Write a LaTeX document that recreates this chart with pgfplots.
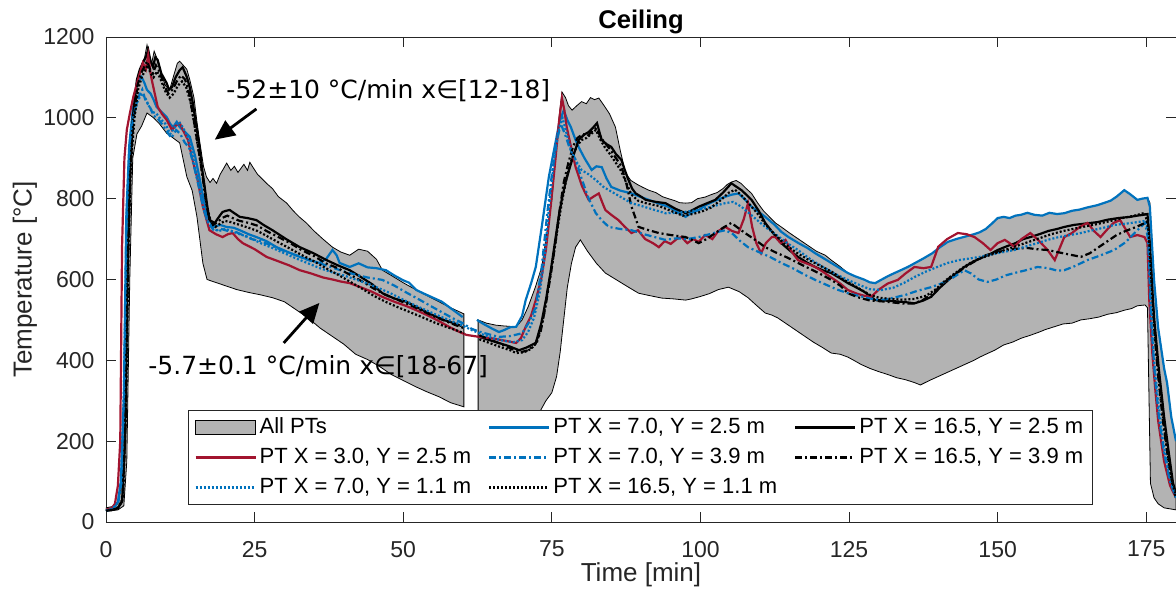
\documentclass[border=0pt]{standalone}
\usepackage{pgfplots}
\pgfplotsset{compat=1.18}
\usepackage{fontspec}
\setmainfont{Liberation Sans}
\newfontfamily\annfont{DejaVu Sans}
\usetikzlibrary{arrows.meta,calc}
\definecolor{mred}{RGB}{162,20,47}
\definecolor{mblue}{RGB}{0,114,189}
\definecolor{envgray}{RGB}{179,179,179}
\definecolor{axgray}{RGB}{38,38,38}
\pgfplotsset{
  linelegend/.style={legend image code/.code={\draw[##1] (0pt,0pt) -- (30pt,0pt);}},
  envlegend/.style={legend image code/.code={\draw[##1] (0pt,-3.5pt) rectangle (30pt,3.5pt);}},
}
\begin{document}
\begin{tikzpicture}
\begin{axis}[
  name=ax,
  width=535pt, height=242.5pt, scale only axis,
  xmin=0, xmax=180, ymin=0, ymax=1200,
  xtick={0,25,...,175}, ytick={0,200,...,1200},
  tick align=inside, tick pos=both, major tick length=5pt,
  axis line style={axgray}, tick style={axgray, line width=0.4pt},
  /pgf/number format/assume math mode=true,
  /pgf/number format/1000 sep={},
  tick label style={font=\fontsize{11.5}{13}\selectfont, text=axgray},
  xticklabel style={yshift=-6pt},
  yticklabel style={xshift=-2.2pt},
  title={\bfseries Ceiling},
  every axis title shift=0pt,
  title style={font=\fontsize{12.8}{14}\selectfont, at={(axis description cs:0.5,1)}, anchor=base, yshift=4pt, inner sep=0pt},
  xlabel={Time [min]},
  ylabel={Temperature [°C]},
  every axis x label/.style={at={(axis description cs:0.5,-0.109)}, anchor=center, font=\fontsize{13}{15}\selectfont, text=axgray},
  every axis y label/.style={at={(axis description cs:-0.0757,0.5)}, anchor=center, rotate=90, font=\fontsize{13}{15}\selectfont, text=axgray},
  unbounded coords=jump,
  legend columns=3,
  legend cell align=left,
  linelegend,
  legend style={at={(axis description cs:0.0766,0.035)}, anchor=south west,
    draw=axgray, line width=0.5pt, inner xsep=3pt, inner ysep=1pt,
    font=\fontsize{11}{13}\selectfont,
    nodes={inner xsep=1.5pt, inner ysep=2pt, text height=8.5pt, text depth=2.5pt},
    /tikz/every even column/.append style={column sep=7pt}},
]
% ---- envelope of all PTs ----
\addplot[fill=envgray, draw=black, line width=0.4pt, envlegend]
coordinates {
(0,35) (1,38) (2,45) (2.5,80) (3,350) (3.5,750) (4,950) (4.5,1000) (5,1060) (5.5,1100) (6,1130) (6.5,1150) (6.9,1180) (7.3,1150) (7.7,1136) (8.1,1165) (8.5,1150) (9,1120) (9.5,1100) (10,1080) (10.7,1069) (11.3,1100) (12,1135) (12.4,1140) (13,1130) (13.6,1120) (14.1,1094) (14.8,1050) (15.3,990) (15.8,938) (16.4,880) (16.9,854) (17.5,840) (18,850) (18.6,838) (19.2,860) (19.8,875) (20.3,888) (21,870) (21.6,880) (22.2,865) (22.5,871) (23.2,885) (23.8,870) (24.2,890) (24.7,878) (25.5,860) (26.2,850) (27,838) (28,825) (29,805) (30.4,789) (31.5,770) (32.5,755) (33.7,740) (35,720) (36.5,700) (38.1,680) (39.5,668) (41,660) (42.5,675) (44,670) (45.5,650) (46.5,623) (48,610) (50,592) (52.2,574) (54,560) (56,545) (58,530) (60.2,515)
(60.2,285) (58,295) (56,310) (54,322) (52.2,334) (50,350) (48,365) (46,385) (44,402) (42,415) (40,440) (38,460) (36,480) (34,505) (32,525) (30,545) (28,555) (26,562) (24,568) (22,575) (20,585) (18,595) (17,600) (16.3,640) (15.3,755) (14.5,820) (13.6,854) (12.4,938) (11.3,950) (10.2,962) (9,985) (8,1000) (6.9,1012) (6,980) (5.2,960) (4.5,900) (4,600) (3.5,150) (3,40) (2,30) (1,28) (0,28)
} -- cycle;
\addlegendentry{All PTs}
\addplot[fill=envgray, draw=black, line width=0.4pt, forget plot]
coordinates {
(62.6,500) (64,492) (65.6,487) (67,485) (69,483) (70,500) (71,532) (72.2,580) (73.3,631) (74.2,720) (75,797) (75.6,900) (76.2,1000) (76.7,1064) (77.3,1050) (77.8,1030) (78.4,1019) (79.2,1030) (80,1040) (80.8,1035) (81.5,1050) (82.2,1045) (82.9,1049) (83.8,1030) (84.7,1010) (85.7,977) (86.5,920) (87.4,863) (88.3,845) (89.4,835) (90.3,828) (91.3,821) (92.5,815) (93.6,805) (94.6,800) (95.7,795) (96.5,790) (97.5,789) (98.5,790) (99.5,800) (100.8,804) (101.8,810) (102.8,815) (103.8,825) (104.5,835) (105.2,841) (106,845) (106.8,838) (107.7,825) (108.6,813) (109.6,790) (110.6,770) (111.6,755) (112.6,740) (113.6,730) (115,715) (116.5,700) (118,685) (119.5,670) (121,660) (122,648) (123.5,632) (124.8,616) (126,608) (127.5,600) (128.5,593) (129.4,591) (130.5,600) (131.5,608) (132.5,615) (134,625) (135,632) (136,640) (137.5,652) (139,665) (140.3,680) (141.6,693) (143,700) (144.5,706) (146,712) (147,717) (148,725) (149,738) (150,752) (151,755) (152,752) (153,758) (153.9,760) (155,765) (156.2,760) (157.5,758) (158.7,765) (160,762) (161.2,764) (162.5,770) (163.8,773) (165,778) (166.8,784) (168,790) (169,795) (170,805) (171.3,821) (172.2,812) (173.5,797) (174.3,800) (175.2,802) (175.6,790) (176.3,600) (177,480) (178,380) (178.5,344) (179.2,260) (180,200)
(180,30) (178,35) (177,45) (176.3,60) (175.7,96) (175.2,530) (174.8,537) (173.5,535) (172.5,528) (171.3,524) (170,518) (168.5,514) (167,507) (165.5,503) (164,500) (162.5,492) (161,490) (159.5,483) (158,476) (157,470) (155.5,462) (154,455) (152.5,445) (151,438) (149.5,425) (148,415) (147,408) (146,400) (144.5,390) (143,380) (141.5,370) (140,360) (138.5,350) (137,339) (136,345) (134.5,352) (133,357) (131.5,365) (130,372) (128.5,380) (127,390) (125.8,400) (124.8,408) (123.5,415) (122,418) (120.5,432) (119,445) (117.5,460) (116,475) (114.5,490) (113,505) (112,512) (110.9,517) (109.5,535) (108,555) (106.5,570) (104.7,581) (103,575) (101.5,565) (100,558) (98.5,552) (97.5,549) (95.5,552) (93.5,554) (91.5,560) (89.6,566) (88,580) (86,598) (84,616) (82.5,640) (81,670) (79.8,698) (79,680) (78.3,640) (77.6,580) (77,500) (76.4,420) (75.8,360) (75,320) (74,300) (72.5,260) (71,255) (69,255) (67,255) (65,258) (63.5,260) (62.6,260)
} -- cycle;
% ---- PT X = 7.0, Y = 2.5 m ----
\addplot[mblue, line width=1.1pt] coordinates {
(0,28) (1,32) (2,50) (2.5,100) (3,300) (3.4,750) (3.9,930) (4.5,1020) (5.2,1086) (6,1101) (6.5,1085) (6.9,1069) (7.5,1060) (8,1045) (8.5,1027) (9.3,1015) (10.2,1002) (10.8,985) (11.3,977) (11.9,990) (12.4,977) (13.3,965) (14.1,953) (15,905) (15.8,846) (16.4,800) (16.9,764) (18,730) (19.2,735) (20.3,730) (21.5,728) (22.5,722) (24,712) (25.3,705) (27,695) (28.7,680) (30.6,668) (32.6,656) (34.3,648) (35.9,641) (37,650) (38.1,673) (38.8,660) (39.3,641) (41,631) (42.5,640) (44,630) (45.5,628) (47.1,623) (48.5,610) (50,598) (51,592) (52.2,574) (53.5,565) (55,555) (56.5,545) (57.7,532) (59,518) (60,507) (60.3,nan) (62.4,500) (63.5,490) (65,478) (66.1,470) (67,475) (68,482) (69,483) (70,510) (70.6,549) (71.5,590) (72.3,631) (73.3,730) (74.5,854) (75.6,938) (76.3,990) (77,1019) (77.6,995) (78.2,977) (79,945) (79.5,928) (80.5,900) (81.7,871) (82.5,880) (83.4,878) (84.2,850) (85,829) (86.5,820) (88.4,813) (89.8,805) (91.3,797) (93,788) (94.6,780) (96,768) (97.5,755) (98.5,765) (99.7,772) (101,785) (102.5,795) (104.2,805) (105.3,810) (106.4,813) (107.5,798) (108.6,780) (109.7,768) (110.9,755) (112.5,735) (113.6,718) (114.8,705) (116.5,690) (118,678) (119.3,665) (121,650) (123,632) (124.8,616) (126,608) (127.5,600) (128.5,593) (129.4,591) (130.5,600) (131.5,608) (132.5,615) (134,625) (135,632) (136,640) (137.5,652) (139,665) (140.3,680) (141.6,693) (143,700) (144.5,706) (146,712) (147,717) (148,725) (149,738) (150,752) (151,755) (152,752) (153,758) (153.9,760) (155,765) (156.2,760) (157.5,758) (158.7,765) (160,762) (161.2,764) (162.5,770) (163.8,773) (165,778) (166.8,784) (168,790) (169,795) (170,805) (171.3,821) (172.2,812) (173.5,797) (174.3,800) (175.2,802) (175.6,780) (176.3,600) (177,480) (178,380) (178.5,344) (179.2,260) (180,200)
};
\addlegendentry{PT X = 7.0, Y = 2.5 m}
% ---- PT X = 16.5, Y = 2.5 m ----
\addplot[black, line width=1.1pt] coordinates {
(0,28) (1,30) (2,35) (2.7,50) (3.2,200) (3.6,600) (4,850) (4.5,1000) (5.2,1094) (5.7,1120) (6.2,1136) (6.7,1150) (7.1,1168) (7.5,1140) (7.9,1126) (8.3,1150) (8.7,1143) (9.3,1110) (10.2,1086) (10.6,1070) (11.1,1076) (11.7,1100) (12.4,1118) (12.9,1125) (13.6,1101) (14.1,1075) (14.6,1037) (15.2,980) (15.8,920) (16.2,870) (16.6,829) (17,785) (17.4,747) (18.3,740) (19,755) (19.6,767) (20.2,770) (20.8,772) (21.5,765) (22.5,755) (23.8,752) (25.3,747) (26.5,735) (28,722) (30.3,700) (32.6,680) (34.9,665) (37.1,648) (39,635) (41,623) (43,605) (44.8,588) (46.5,566) (48.5,553) (50.5,545) (52.2,532) (54.5,515) (56.8,500) (58.5,492) (59.8,485) (60.3,nan) (62.8,458) (64.5,450) (66.1,443) (67.8,435) (69.5,425) (70.8,432) (72.3,443) (73.2,490) (74,549) (74.8,620) (75.6,700) (76.2,760) (76.7,800) (77.3,840) (77.9,871) (78.7,910) (79.5,945) (80.4,958) (81.2,965) (81.9,975) (82.6,987) (83,965) (83.4,945) (84.2,935) (85,928) (85.8,910) (86.7,896) (87.3,870) (87.9,846) (88.5,825) (89.1,813) (90,805) (90.8,797) (92.5,792) (94.1,789) (95.8,775) (97.5,764) (98.7,772) (99.7,780) (101,788) (102.5,797) (103.8,815) (105.2,838) (106,830) (106.9,821) (107.7,810) (108.6,797) (109.8,770) (110.9,740) (112.2,715) (113.6,690) (115,672) (116.4,656) (117.8,643) (119.3,631) (120.7,622) (122,616) (123.5,603) (124.8,591) (126,582) (127.5,570) (129.4,549) (131,548) (132.8,546) (134.5,544) (136,541) (137.5,548) (138.8,557) (140.3,580) (141.8,600) (143,615) (144.4,631) (146,645) (147.5,655) (149,665) (150,673) (151.5,682) (153,690) (154.3,700) (155.5,705) (157,712) (158.5,720) (160,725) (161.2,730) (162.8,735) (164.5,738) (166.8,742) (168.5,748) (170.3,752) (172.3,755) (173.5,758) (174.5,760) (175.2,762) (175.5,700) (176.3,507) (177.1,380) (178,260) (178.8,170) (179.5,96) (180,70)
};
\addlegendentry{PT X = 16.5, Y = 2.5 m}
% ---- PT X = 3.0, Y = 2.5 m ----
\addplot[mred, line width=1.1pt] coordinates {
(0,30) (1,35) (1.5,45) (2,90) (2.4,200) (2.7,680) (3.1,900) (3.5,970) (4,1010) (4.6,1052) (5.3,1090) (6.2,1136) (6.7,1120) (7.1,1155) (7.5,1110) (7.7,1094) (8.2,1060) (8.7,1027) (9.4,1010) (10.2,995) (11.1,970) (11.7,980) (12.4,987) (13.1,965) (13.8,945) (14.5,900) (15.3,854) (16.3,780) (17.4,722) (18.5,712) (19.6,705) (20.5,712) (21.3,715) (22.2,700) (23,690) (25,675) (27,656) (29,645) (30.8,635) (32.6,623) (34.5,615) (36.5,605) (38.1,600) (39.5,595) (41,591) (43,580) (44.7,570) (46.5,557) (48.5,545) (50.4,535) (52.2,524) (54,512) (55.9,498) (57.7,483) (59.2,472) (60.6,463) (62.8,458) (64.7,455) (66.6,450) (68,446) (69,443) (69.8,455) (70.6,483) (71.5,510) (72.3,549) (73.2,600) (74,673) (74.8,780) (75.6,896) (76.2,990) (76.7,1049) (77.1,1020) (77.5,977) (78.2,930) (79,878) (80.1,830) (81.2,797) (82,805) (82.9,813) (83.5,790) (84,772) (85,760) (86.2,747) (87.3,730) (88.4,715) (89.5,722) (90.7,700) (92,690) (93,680) (94,695) (95,688) (96,700) (96.8,705) (97.8,690) (98.8,700) (99.7,693) (100.8,710) (102,700) (103,720) (104.2,730) (105.3,720) (106.4,715) (107.3,750) (108,789) (108.7,730) (109.4,690) (110.2,665) (111,690) (112,705) (112.6,705) (113.5,690) (114.3,698) (115.3,670) (116.4,648) (117.8,640) (119.3,631) (120.5,620) (122,605) (123.5,590) (124.8,574) (126.3,565) (127.5,560) (128.7,557) (130,575) (131.5,590) (133.2,599) (134.5,615) (136,631) (137.5,628) (138.8,631) (139.5,660) (140,681) (141.5,700) (143.3,715) (144.8,712) (146.1,705) (147.5,690) (148.8,673) (150,690) (151.2,698) (152,690) (152.8,681) (154,700) (155.5,715) (157,695) (158.4,673) (159.6,648) (160.5,680) (161.2,705) (162.5,715) (163.8,730) (165.1,740) (166.2,720) (167.3,705) (168.5,725) (169.5,740) (170.6,747) (171.5,725) (172.3,705) (173.5,710) (174.7,705) (175.2,690) (175.5,549) (176,420) (176.5,330) (177,250) (178,150) (179,90) (180,60)
};
\addlegendentry{PT X = 3.0, Y = 2.5 m}
% ---- PT X = 7.0, Y = 3.9 m ----
\addplot[mblue, line width=1.1pt, dash pattern=on 3.5pt off 1.5pt on 1pt off 1.5pt] coordinates {
(0,28) (1,32) (2,45) (2.6,90) (3.1,300) (3.6,800) (4.1,950) (4.7,1010) (5.4,1050) (6.1,1070) (6.7,1040) (7.3,1030) (8,1005) (8.6,1000) (9.4,985) (10.3,965) (11,950) (11.8,970) (12.5,960) (13.2,940) (14,925) (14.8,880) (15.6,830) (16.4,775) (17.2,740) (18.2,720) (19.4,725) (20.5,720) (21.8,718) (23,710) (24.5,700) (26,695) (28,683) (30,670) (32,660) (34,648) (36,640) (38,630) (40,620) (42,612) (44,605) (46.5,599) (48.5,585) (50.5,568) (52.5,552) (54.9,532) (57,515) (58.5,503) (60,492) (61.5,478) (63,470) (64.5,464) (66.1,458) (68,460) (70,467) (71.2,495) (72.3,532) (73.3,631) (74.2,760) (75,860) (75.8,940) (76.5,985) (77.2,960) (78,925) (79,896) (80,850) (81.2,800) (82.4,764) (83.5,745) (84.6,730) (86.5,725) (88.4,722) (90.5,712) (92.3,705) (94.1,698) (96,702) (97.8,700) (99.7,705) (101.5,712) (103,718) (104.2,722) (105.5,712) (106.7,695) (108,680) (109.8,668) (111.8,655) (113.6,641) (115.5,628) (117.5,612) (119.3,599) (121,588) (123,575) (124.8,566) (126.5,560) (128.5,553) (130.4,549) (132.5,555) (134.5,562) (136.5,572) (138.8,581) (140.5,590) (142.5,605) (144.4,623) (145.5,615) (146.8,600) (148.3,594) (149.8,600) (151.3,610) (152.8,616) (154.5,622) (156.7,631) (158.5,628) (160,622) (161.2,623) (162.8,632) (165.1,648) (167,658) (169.6,673) (171.5,692) (173.5,722) (174.8,740) (175.3,700) (175.8,500) (176.5,350) (177.2,250) (178,170) (179,100) (180,60)
};
\addlegendentry{PT X = 7.0, Y = 3.9 m}
% ---- PT X = 16.5, Y = 3.9 m ----
\addplot[black, line width=1.1pt, dash pattern=on 3.5pt off 1.5pt on 1pt off 1.5pt] coordinates {
(0,28) (1,30) (2,34) (2.8,55) (3.3,250) (3.7,650) (4.1,870) (4.6,990) (5.3,1080) (5.9,1110) (6.4,1125) (6.9,1140) (7.4,1120) (7.9,1110) (8.4,1130) (9,1115) (9.8,1080) (10.5,1060) (11.2,1070) (11.9,1090) (12.6,1105) (13.3,1095) (14,1060) (14.6,1010) (15.2,955) (15.8,900) (16.3,850) (16.8,795) (17.3,755) (18,735) (18.8,742) (19.5,752) (20.4,758) (21.3,752) (22.5,745) (24,740) (25.5,733) (27,720) (29,705) (31,690) (33,672) (35,658) (37,640) (39,628) (41,612) (43,596) (45,578) (47,562) (49,550) (51,538) (53,524) (55,510) (57,498) (59,486) (60.2,480) (60.3,nan) (62.8,462) (64.5,452) (66.5,440) (68.3,428) (69.8,420) (71,425) (72.2,440) (73.1,470) (73.9,530) (74.8,610) (75.6,690) (76.3,770) (77,840) (77.8,890) (78.6,930) (79.3,950) (80.2,960) (81,955) (81.8,968) (82.5,975) (83.3,950) (84.1,935) (84.9,920) (85.8,900) (86.7,880) (87.5,840) (88.4,780) (89.6,730) (91.3,722) (93,715) (95,710) (97.5,705) (98.6,698) (99.7,690) (101,700) (102.5,715) (103.8,728) (105.2,740) (106.3,728) (107.5,715) (109.2,698) (110.9,680) (112.5,668) (114.5,655) (116.4,641) (118.2,628) (120,615) (122,599) (123.5,585) (124.8,566) (126.5,556) (128.5,548) (130.5,546) (132.5,543) (134.5,540) (136,541) (137.5,550) (139,565) (140.5,585) (142,605) (143.5,620) (145,635) (146.5,648) (148,660) (150,668) (151.5,672) (153,676) (155,678) (156.5,675) (158.4,673) (160,668) (162,662) (164,656) (165.5,665) (167,680) (168.5,695) (170,710) (171.5,720) (173.3,730) (174.5,738) (175.3,745) (175.6,680) (176.3,480) (177,360) (177.8,250) (178.6,160) (179.4,90) (180,60)
};
\addlegendentry{PT X = 16.5, Y = 3.9 m}
% ---- PT X = 7.0, Y = 1.1 m ----
\addplot[mblue, line width=1.1pt, dash pattern=on 1pt off 1pt] coordinates {
(0,28) (1,32) (2,48) (2.5,100) (3,320) (3.5,780) (4,940) (4.6,1000) (5.3,1040) (6,1060) (6.6,1050) (7.2,1030) (7.8,1015) (8.5,1010) (9.3,995) (10,985) (10.8,960) (11.5,975) (12.3,990) (13,975) (13.8,950) (14.6,905) (15.4,850) (16.2,790) (17,745) (18,725) (19,720) (20,725) (21.2,720) (22.5,712) (24,705) (26,690) (28,678) (30,665) (32,652) (34,640) (36,628) (38,618) (40,610) (42,600) (44,590) (46,578) (48,565) (50,550) (52,536) (54,523) (56,510) (58,498) (60,486) (61.5,475) (63,466) (65,455) (67,448) (68.5,445) (70,450) (71,470) (72,505) (73,570) (73.8,660) (74.6,790) (75.4,900) (76.2,975) (76.8,1000) (77.5,960) (78.3,915) (79.2,890) (80,871) (81.2,860) (82.5,845) (83.6,830) (84.6,821) (86.5,805) (88.4,789) (90.5,780) (92.3,772) (94.1,764) (96,765) (97.8,768) (99.7,772) (101.8,780) (104.2,789) (105.5,792) (106.9,780) (108.5,760) (110.9,730) (112.8,710) (114.6,690) (116.4,673) (118.5,650) (120.5,632) (122.5,615) (124.8,599) (126.5,588) (128.5,576) (130.5,574) (132.5,580) (134.3,592) (136,606) (138,620) (140,632) (141.6,641) (143.5,648) (145.3,652) (147,656) (149,662) (151,668) (152.8,673) (154.8,682) (156.7,690) (158.4,698) (160.3,705) (162.2,710) (164,715) (166,722) (167.8,728) (169.6,735) (171.5,738) (173.5,742) (174.8,745) (175.3,720) (175.8,540) (176.3,400) (177,300) (177.8,200) (178.8,120) (180,60)
};
\addlegendentry{PT X = 7.0, Y = 1.1 m}
% ---- PT X = 16.5, Y = 1.1 m ----
\addplot[black, line width=1.1pt, dash pattern=on 1pt off 1pt] coordinates {
(0,28) (1,30) (2,34) (2.9,60) (3.4,300) (3.8,700) (4.2,890) (4.8,1000) (5.4,1070) (6,1100) (6.5,1115) (7,1130) (7.5,1110) (8,1100) (8.6,1115) (9.2,1095) (10,1065) (10.7,1050) (11.4,1060) (12.1,1080) (12.8,1090) (13.5,1075) (14.2,1040) (14.8,990) (15.4,935) (16,880) (16.5,830) (17,780) (17.6,745) (18.4,730) (19.2,738) (20,745) (21,742) (22.5,735) (24,728) (25.5,720) (27,708) (29,692) (31,676) (33,660) (35,645) (37,628) (39,612) (41,595) (43,578) (45,560) (47,545) (49,532) (51,520) (53,508) (55,495) (57,484) (59,474) (60.2,467) (60.3,nan) (62.8,452) (64.5,443) (66.5,432) (68,425) (69,418) (70.3,420) (71.5,428) (72.5,445) (73.5,500) (74.4,580) (75.3,660) (76,730) (76.8,800) (77.6,860) (78.4,900) (79.2,930) (80,945) (80.8,950) (81.6,960) (82.4,970) (83.2,945) (84,925) (84.8,910) (85.7,890) (86.6,870) (87.5,840) (88.4,810) (89.5,795) (91,788) (93,782) (95,770) (97,758) (98.7,762) (100.2,768) (101.8,778) (103.3,795) (104.8,815) (105.8,822) (106.8,810) (108,790) (109.5,765) (111,735) (112.5,712) (114,690) (116,668) (118,650) (120,635) (122,620) (124,600) (125.5,588) (127,575) (128.5,562) (130,555) (132,552) (134,550) (136,552) (138,560) (139.5,575) (141,595) (142.5,612) (144,628) (145.5,642) (147,652) (149,662) (151,672) (153,682) (155,692) (157,702) (159,712) (161,720) (163,726) (165,732) (167,738) (169,745) (171,752) (173,758) (174.8,765) (175.4,720) (176,560) (176.7,420) (177.5,300) (178.3,200) (179.2,110) (180,65)
};
\addlegendentry{PT X = 16.5, Y = 1.1 m}
% ---- annotations ----
\draw[black, line width=1.4pt, -{Triangle[length=10pt,width=9pt]}] (axis cs:25.3,1022) -- (axis cs:18.3,946);
\draw[black, line width=1.4pt, -{Triangle[length=10pt,width=9pt]}] (axis cs:29.9,443) -- (axis cs:35.9,542);
\node[anchor=base, inner sep=0pt, font=\annfont\fontsize{12.5}{14}\selectfont] at (axis cs:47.5,1049) {-52±10 °C/min x∈[12-18]};
\node[anchor=base, inner sep=0pt, font=\annfont\fontsize{12.5}{14}\selectfont] at (axis cs:35.7,364) {-5.7±0.1 °C/min x∈[18-67]};
\end{axis}
\pgfresetboundingbox
\path ($(ax.south west)+(-53pt,-39pt)$) rectangle ($(ax.north east)+(0pt,18.5pt)$);
\end{tikzpicture}
\end{document}
